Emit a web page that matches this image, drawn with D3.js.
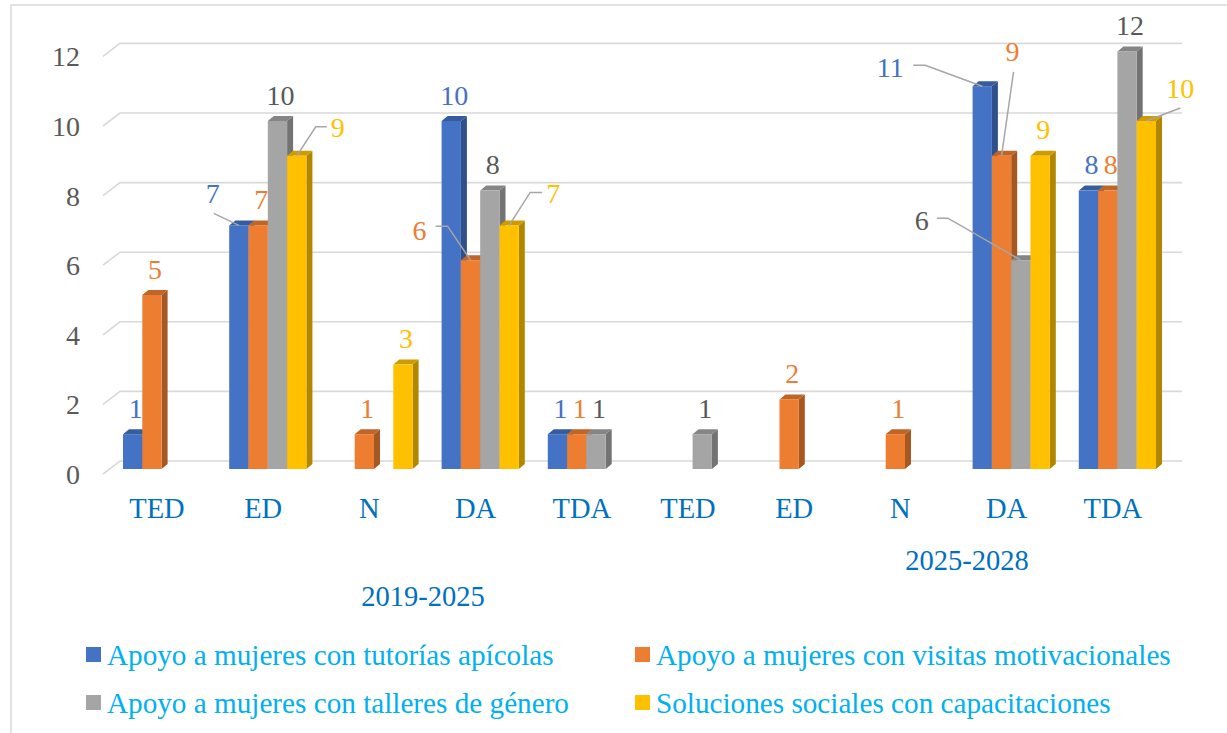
<!DOCTYPE html>
<html>
<head>
<meta charset="UTF-8">
<title>Apoyo a mujeres</title>
<script src="https://d3js.org/d3.v7.min.js"></script>
</head>
<body style="margin:0">
<svg id="chart" width="1227" height="733"></svg>
<script>
// data
const categories = ["TED", "ED", "N", "DA", "TDA", "TED", "ED", "N", "DA", "TDA"];
const periods = ["2019-2025", "2025-2028"];
const seriesNames = [
  "Apoyo a mujeres con tutorías apícolas",
  "Apoyo a mujeres con visitas motivacionales",
  "Apoyo a mujeres con talleres de género",
  "Soluciones sociales con capacitaciones"
];
const tutorias   = [1, 7, null, 10, 1, null, null, null, 11, 8];
const visitas    = [5, 7, 1, 6, 1, null, 2, 1, 9, 8];
const talleres   = [null, 10, null, 8, 1, 1, null, null, 6, 12];
const soluciones = [null, 9, 3, 7, null, null, null, null, 9, 10];
const yTicks = [0, 2, 4, 6, 8, 10, 12];

const allSeries = [tutorias, visitas, talleres, soluciones];
const colors = ["#4472C4", "#ED7D31", "#A5A5A5", "#FFC000"];
const labelColors = ["#4472C4", "#ED7D31", "#595959", "#FFC000"];
const FONT = '"Liberation Serif"';

const svg = d3.select("#chart");

// frame
svg.append("rect").attr("x", 11).attr("y", 5).attr("width", 1240).attr("height", 760)
  .attr("fill", "none").attr("stroke", "#d9d9d9").attr("stroke-width", 1.5);

const depthX = 6, depthY = 5;      // bar depth
const wallX = 17, wallY = 13;      // floor depth for gridlines

const x = d3.scaleBand().domain(d3.range(categories.length))
  .range([108.5, 1170.5]).paddingInner(0.273).paddingOuter(0.1365);
const xs = d3.scaleBand().domain(d3.range(4)).range([0, x.bandwidth()]);
const y = d3.scaleLinear().domain([0, 12]).range([469, 51.4]);

// gridlines on back wall + floor slant
const grid = svg.append("g");
yTicks.forEach(v => {
  const yb = y(v) - 8;
  grid.append("path")
    .attr("d", `M103,${yb + wallY}L${103 + wallX},${yb}L1182,${yb}`)
    .attr("fill", "none").attr("stroke", "#d9d9d9").attr("stroke-width", 1.6);
});

// y axis labels
const yAxis = svg.append("g").attr("transform", "translate(80,5)")
  .call(d3.axisLeft(y).tickValues(yTicks).tickSize(0).tickPadding(0));
yAxis.attr("font-family", null).attr("font-size", null);
yAxis.select(".domain").remove();
yAxis.selectAll("text").style("font-family", FONT).style("font-size", "28px")
  .attr("fill", "#595959").attr("dy", "0.34em");

// bars
const bars = svg.append("g");
categories.forEach((c, i) => {
  allSeries.forEach((s, j) => {
    const v = s[i];
    if (v == null) return;
    const x0 = x(i) + xs(j), w = xs.bandwidth();
    const yt = y(v), yb = y(0);
    const col = d3.color(colors[j]);
    bars.append("path")
      .attr("d", `M${x0 + w},${yt}L${x0 + w + depthX},${yt - depthY}L${x0 + w + depthX},${yb - depthY}L${x0 + w},${yb}Z`)
      .attr("fill", col.darker(1.0));
    bars.append("path")
      .attr("d", `M${x0},${yt}L${x0 + depthX},${yt - depthY}L${x0 + w + depthX},${yt - depthY}L${x0 + w},${yt}Z`)
      .attr("fill", col.darker(0.6));
    bars.append("rect").attr("x", x0).attr("y", yt).attr("width", w).attr("height", yb - yt)
      .attr("fill", colors[j]);
  });
});

// moved data labels: label centre offset from bar top, leader knee points relative to label centre
const moved = {
  "1-0": { dx: -26, dy: -32, knee: [[1, 20]] },
  "1-3": { dx: 41, dy: -28, knee: [[-11, -1], [-22, -1]] },
  "3-1": { dx: -51, dy: -30, knee: [[16, -4], [28, -4]] },
  "3-3": { dx: 44, dy: -32, knee: [[-11, -1], [-23, -1]] },
  "8-0": { dx: -92, dy: -19, knee: [[23, -2], [35, -2]] },
  "8-1": { dx: 11, dy: -104, knee: [[1, 20]] },
  "8-2": { dx: -99, dy: -40, knee: [[15, -2], [26, -2]] },
  "9-3": { dx: 34, dy: -33, knee: [[0, 20]] }
};

const labels = svg.append("g");
categories.forEach((c, i) => {
  allSeries.forEach((s, j) => {
    const v = s[i];
    if (v == null) return;
    const ax = x(i) + xs(j) + xs.bandwidth() / 2, ay = y(v);
    const m = moved[i + "-" + j];
    let lx, ly;
    if (m) {
      lx = ax + m.dx; ly = ay + m.dy;
      const pts = m.knee.map(p => [lx + p[0], ly + p[1]]);
      pts.push([ax, ay]);
      labels.append("path").attr("d", d3.line()(pts))
        .attr("fill", "none").attr("stroke", "#a6a6a6").attr("stroke-width", 1.5);
    } else {
      lx = ax + 3; ly = ay - 26;
    }
    labels.append("text").attr("x", lx).attr("y", ly).attr("dy", "0.34em")
      .attr("text-anchor", "middle").style("font-family", FONT).style("font-size", "28px")
      .attr("fill", labelColors[j]).text(v);
  });
});

// category labels
svg.append("g").selectAll("text").data(categories).join("text")
  .attr("x", (d, i) => x(i) + x.bandwidth() / 2 - 4.6)
  .attr("y", 518).attr("text-anchor", "middle")
  .style("font-family", FONT).style("font-size", "28.5px")
  .attr("fill", "#0070C0").text(d => d);

// period labels
const periodPos = [[0, 4, 49, 606], [5, 9, 62, 570]];
periods.forEach((p, k) => {
  const [a, b, off, py] = periodPos[k];
  const mid = (x(a) + x(b) + x.bandwidth()) / 2;
  svg.append("text").attr("x", mid + off).attr("y", py).attr("text-anchor", "middle")
    .style("font-family", FONT).style("font-size", "28.5px")
    .attr("fill", "#0070C0").text(p);
});

// legend
const legendCols = [86, 635], legendRows = [655, 703];
seriesNames.forEach((name, j) => {
  const lx = legendCols[j % 2], ly = legendRows[Math.floor(j / 2)];
  svg.append("rect").attr("x", lx).attr("y", ly - 8).attr("width", 15).attr("height", 15)
    .attr("fill", colors[j]);
  svg.append("text").attr("x", lx + 21).attr("y", ly).attr("dy", "0.34em")
    .style("font-family", FONT).style("font-size", "29.2px")
    .attr("fill", "#00B0F0").text(name);
});
</script>
</body>
</html>
